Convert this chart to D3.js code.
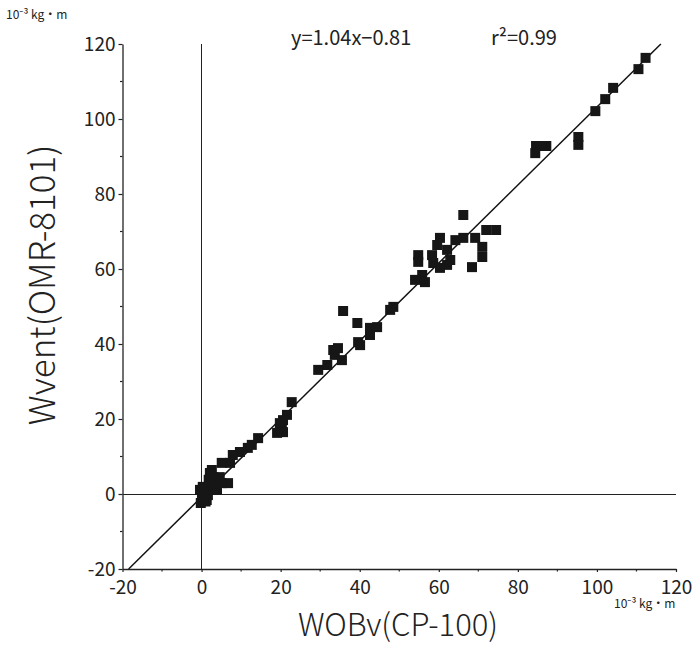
<!DOCTYPE html>
<html><head><meta charset="UTF-8"><style>
body { margin: 0; background: #fff; }
svg text { font-family: "Noto Sans CJK JP", "Noto Sans", sans-serif; fill: #222; }
.axis .domain { stroke: #222; stroke-width: 1.3; }
.axis line { stroke: #222; stroke-width: 1.2; }
</style>
</head>
<body>
<svg width="695" height="649"></svg>
<script src="https://cdn.jsdelivr.net/npm/d3@7"></script>
<script>

// axis ticks
var tickVals = [-20, 0, 20, 40, 60, 80, 100, 120];
var minorVals = [-10, 10, 30, 50, 70, 90, 110];

// regression
var slope = 1.04, intercept = -0.81;

// WOBv(CP-100) and Wvent(OMR-8101), 10^-3 kg.m
var wobv = [112.3, 110.5, 104.1, 102.1, 99.6, 95.3, 95.3, 84.6, 87.2, 85.9, 84.4,
            66.2, 72.0, 74.5, 69.2, 71.0, 71.0, 68.4, 66.2, 64.2, 60.3, 59.6, 62.1,
            54.8, 58.3, 54.8, 58.6, 62.1, 60.3, 55.8, 54.0, 56.5, 62.9,
            35.8, 39.4, 47.7, 48.5, 42.6, 44.4, 42.6, 39.6, 40.1, 33.3, 34.5, 33.7,
            35.5, 31.8, 29.5, 22.8, 21.6, 20.6, 20.3,
            19.8, 20.6, 19.1, 14.3, 12.7, 11.7, 9.7, 7.9, 7.2, 5.1, 2.6, 4.6, 6.7,
            5.1, 2.9, 2.1, 0.8, 0.1, 1.3, -0.4, 3.9, 2.9, 1.6, 0.3, 2.1, -0.2, 1.0,
            3.5, 1.8, 0.5];
var wvent = [116.3, 113.3, 108.3, 105.3, 102.1, 95.2, 93.1, 92.8, 92.8, 92.8, 90.9,
             74.4, 70.4, 70.4, 68.3, 65.9, 63.2, 60.5, 68.3, 67.7, 68.3, 66.4, 65.1,
             63.7, 63.7, 61.9, 61.6, 61.1, 60.3, 58.4, 57.1, 56.5, 62.4,
             48.8, 45.6, 49.1, 49.9, 44.3, 44.5, 42.4, 40.5, 39.7, 38.4, 38.9, 37.1,
             35.7, 34.4, 33.1, 24.5, 21.1, 19.7, 17.1,
             18.9, 16.5, 16.3, 14.9, 13.1, 12.3, 11.2, 10.4, 8.3, 8.3, 6.4, 4.5, 2.9,
             2.9, 4.5, 2.4, 0.5, -1.1, -1.6, 1.1, 1.1, 1.6, -0.3, 1.9, 5.6, -2.4, -2.0,
             3.2, 3.8, -0.8];

var svg = d3.select("svg");

var x = d3.scaleLinear().domain([-20, 120]).range([122.5, 676]);
var y = d3.scaleLinear().domain([-20, 120]).range([569, 44]);

// zero reference lines
svg.append("line")
    .attr("x1", x(0)).attr("x2", x(0))
    .attr("y1", y(-20)).attr("y2", y(120))
    .attr("stroke", "#222").attr("stroke-width", 1)
    .attr("shape-rendering", "crispEdges");
svg.append("line")
    .attr("x1", x(-20)).attr("x2", x(120))
    .attr("y1", y(0) + 0.5).attr("y2", y(0) + 0.5)
    .attr("stroke", "#222").attr("stroke-width", 1)
    .attr("shape-rendering", "crispEdges");

// regression line, clipped to the frame
var x0 = (-20 - intercept) / slope, x1 = (120 - intercept) / slope;
svg.append("line")
    .attr("x1", x(x0)).attr("y1", y(-20))
    .attr("x2", x(x1)).attr("y2", y(120))
    .attr("stroke", "#111").attr("stroke-width", 1.5);

var fmt = function(d) { return String(d); };

// axes
var gx = svg.append("g").attr("class", "axis")
    .attr("transform", "translate(0," + y(-20) + ")")
    .call(d3.axisBottom(x).tickValues(tickVals).tickFormat(fmt).tickSize(3).tickPadding(9).tickSizeOuter(0));
gx.selectAll(".minor").data(minorVals).enter().append("line")
    .attr("class", "minor")
    .attr("x1", function(d) { return x(d); }).attr("x2", function(d) { return x(d); })
    .attr("y1", 0).attr("y2", 2.5);

var gy = svg.append("g").attr("class", "axis")
    .attr("transform", "translate(" + x(-20) + ",0)")
    .call(d3.axisLeft(y).tickValues(tickVals).tickFormat(fmt).tickSize(4).tickPadding(3).tickSizeOuter(0));
gy.selectAll(".minor").data(minorVals).enter().append("line")
    .attr("class", "minor")
    .attr("y1", function(d) { return y(d); }).attr("y2", function(d) { return y(d); })
    .attr("x1", 0).attr("x2", -2.5);

svg.selectAll(".axis .tick text")
    .attr("font-size", 19)
    .attr("font-family", "\"Noto Sans CJK JP\", sans-serif")
    .attr("fill", "#222");

// points
var pts = d3.range(wobv.length).map(function(i) { return [wobv[i], wvent[i]]; });
var s = 10;
svg.append("g").selectAll("rect")
    .data(pts)
    .enter().append("rect")
      .attr("x", function(d) { return x(d[0]) - s / 2; })
      .attr("y", function(d) { return y(d[1]) - s / 2; })
      .attr("width", s).attr("height", s)
      .attr("fill", "#161616");

// texts
svg.append("text").attr("x", 6).attr("y", 19).attr("font-size", 12)
    .text("10\u207B\u00B3 kg\u30FBm");
svg.append("text").attr("x", 614).attr("y", 608).attr("font-size", 12)
    .text("10\u207B\u00B3 kg\u30FBm");

svg.append("text").attr("x", 291).attr("y", 45).attr("font-size", 20)
    .text("y=1.04x\u22120.81");
svg.append("text").attr("x", 491).attr("y", 45).attr("font-size", 20)
    .text("r\u00B2=0.99");

svg.append("text").attr("x", 398).attr("y", 636).attr("font-size", 31)
    .attr("font-weight", 300)
    .attr("text-anchor", "middle").text("WOBv(CP-100)");
svg.append("text")
    .attr("transform", "translate(55,285) rotate(-90)")
    .attr("font-size", 35).attr("text-anchor", "middle")
    .attr("font-weight", 300)
    .text("Wvent(OMR-8101)");

</script>
</body></html>
